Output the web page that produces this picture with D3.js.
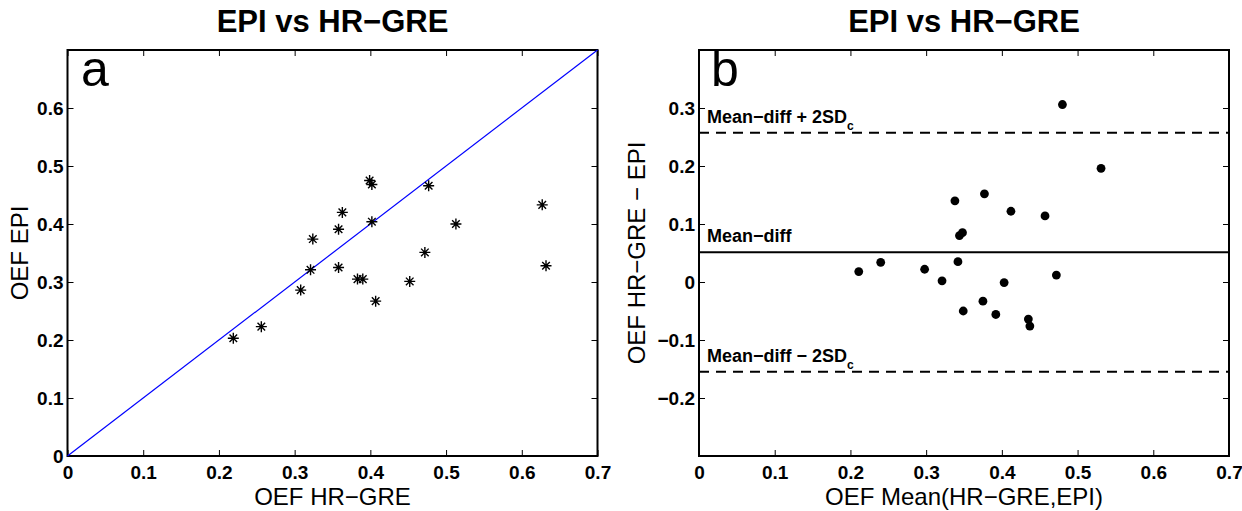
<!DOCTYPE html>
<html>
<head>
	<meta charset="utf-8">
	<title>EPI vs HR-GRE</title>
	<script src="https://d3js.org/d3.v7.min.js"></script>
	<style>
		body { margin: 0; background: white; }
		text { font-family: "Liberation Sans", Arial, Helvetica, sans-serif; fill: black; }
		.tick line { stroke: black; stroke-width: 1; }
		.domain { stroke: none; }
	</style>
</head>
<body>
<svg width="1242" height="511"></svg>

<script type="text/javascript">
// panel a: OEF values per subject
var hrgre = [0.219, 0.256, 0.308, 0.321, 0.324, 0.358, 0.363, 0.358, 0.383, 0.390,
             0.399, 0.402, 0.402, 0.407, 0.452, 0.472, 0.477, 0.513, 0.627, 0.632];
var epi   = [0.203, 0.223, 0.286, 0.321, 0.374, 0.391, 0.420, 0.325, 0.305, 0.305,
             0.475, 0.468, 0.404, 0.267, 0.301, 0.351, 0.466, 0.400, 0.433, 0.328];

// panel b: Bland-Altman
var baMean = [0.480, 0.531, 0.338, 0.377, 0.412, 0.457, 0.344, 0.348, 0.211, 0.240,
              0.298, 0.342, 0.321, 0.403, 0.472, 0.375, 0.349, 0.392, 0.435, 0.437];
var baDiff = [0.306, 0.196, 0.140, 0.152, 0.122, 0.114, 0.080, 0.085, 0.018, 0.034,
              0.022, 0.035, 0.002, -0.001, 0.012, -0.033, -0.050, -0.056, -0.064, -0.076];
var meanDiff = 0.0514;
var sdc = 0.103;

var xTicks = [0, 0.1, 0.2, 0.3, 0.4, 0.5, 0.6, 0.7];
var yTicksA = [0, 0.1, 0.2, 0.3, 0.4, 0.5, 0.6];
var yTicksB = [-0.2, -0.1, 0, 0.1, 0.2, 0.3];

var svg = d3.select('svg');
var top_ = 50, bottom = 456;
var fmt = function(d) { return d === 0 ? '0' : d3.format('.1f')(d); };

function panel(left, right, yDomain, yTicks, title, xLabel, yLabel, yLabelX) {
	var x = d3.scaleLinear().domain([0, 0.7]).range([left, right]);
	var y = d3.scaleLinear().domain(yDomain).range([bottom, top_]);
	var g = svg.append('g');

	g.append('g').attr('transform', 'translate(0,' + bottom + ')')
		.call(d3.axisBottom(x).tickValues(xTicks).tickSizeInner(-6).tickSizeOuter(0).tickPadding(10).tickFormat(fmt))
		.call(function(s) { s.selectAll('text').style('font-size', '19px').style('font-weight', 'bold'); });
	g.append('g').attr('transform', 'translate(0,' + top_ + ')')
		.call(d3.axisTop(x).tickValues(xTicks).tickSizeInner(-6).tickSizeOuter(0).tickFormat(''));
	g.append('g').attr('transform', 'translate(' + left + ',0)')
		.call(d3.axisLeft(y).tickValues(yTicks).tickSizeInner(-6).tickSizeOuter(0).tickPadding(4).tickFormat(fmt))
		.call(function(s) { s.selectAll('text').style('font-size', '19px').style('font-weight', 'bold'); });
	g.append('g').attr('transform', 'translate(' + right + ',0)')
		.call(d3.axisRight(y).tickValues(yTicks).tickSizeInner(-6).tickSizeOuter(0).tickFormat(''));

	g.append('rect')
		.attr('x', left).attr('y', top_)
		.attr('width', right - left).attr('height', bottom - top_)
		.attr('fill', 'none').attr('stroke', 'black').attr('stroke-width', 2);

	svg.append('text')
		.attr('x', (left + right) / 2).attr('y', 32)
		.attr('text-anchor', 'middle')
		.style('font-size', '31px').style('font-weight', 'bold')
		.text(title);
	svg.append('text')
		.attr('x', (left + right) / 2).attr('y', 505)
		.attr('text-anchor', 'middle')
		.style('font-size', '24px')
		.text(xLabel);
	svg.append('text')
		.attr('transform', 'translate(' + yLabelX + ',' + (top_ + bottom) / 2 + ') rotate(-90)')
		.attr('text-anchor', 'middle')
		.style('font-size', '24px')
		.text(yLabel);
	return {x: x, y: y, g: g};
}

// panel a
var a = panel(67.5, 597.5, [0, 0.7], yTicksA, 'EPI vs HR\u2212GRE', 'OEF HR\u2212GRE', 'OEF EPI', 28);

a.g.append('line')
	.attr('x1', a.x(0)).attr('y1', a.y(0))
	.attr('x2', a.x(0.7)).attr('y2', a.y(0.7))
	.attr('stroke', '#0000ff').attr('stroke-width', 1.2);

var star = 'M0,-5.5V5.5M-5.5,0H5.5M-3.8,-3.8L3.8,3.8M-3.8,3.8L3.8,-3.8';
a.g.selectAll('path.star')
	.data(hrgre)
	.enter()
	.append('path')
	.attr('class', 'star')
	.attr('d', star)
	.attr('transform', function(d, i) { return 'translate(' + a.x(d) + ',' + a.y(epi[i]) + ')'; })
	.attr('fill', 'none').attr('stroke', 'black').attr('stroke-width', 1.4);

svg.append('text').attr('x', 81).attr('y', 86)
	.style('font-size', '50px')
	.text('a');

// panel b
var b = panel(699, 1229, [-0.3, 0.4], yTicksB, 'EPI vs HR\u2212GRE', 'OEF Mean(HR\u2212GRE,EPI)', 'OEF HR\u2212GRE \u2212 EPI', 645);

var refLines = [
	{v: meanDiff + 2 * sdc, dash: '10,7', label: 'Mean\u2212diff + 2SD', sub: true},
	{v: meanDiff, dash: null, label: 'Mean\u2212diff', sub: false},
	{v: meanDiff - 2 * sdc, dash: '10,7', label: 'Mean\u2212diff \u2212 2SD', sub: true}
];
refLines.forEach(function(r) {
	b.g.append('line')
		.attr('x1', b.x(0)).attr('x2', b.x(0.7))
		.attr('y1', b.y(r.v)).attr('y2', b.y(r.v))
		.attr('stroke', 'black').attr('stroke-width', 2)
		.attr('stroke-dasharray', r.dash);
	var t = b.g.append('text')
		.attr('x', b.x(0) + 8).attr('y', b.y(r.v) - 10)
		.style('font-size', '18px').style('font-weight', 'bold')
		.text(r.label);
	if (r.sub) {
		t.append('tspan').attr('dy', 7).style('font-size', '12px').text('c');
	}
});

b.g.selectAll('circle')
	.data(baMean)
	.enter()
	.append('circle')
	.attr('cx', function(d) { return b.x(d); })
	.attr('cy', function(d, i) { return b.y(baDiff[i]); })
	.attr('r', 4.4)
	.attr('fill', 'black');

svg.append('text').attr('x', 711).attr('y', 86)
	.style('font-size', '50px')
	.text('b');
</script>
</body>
</html>
